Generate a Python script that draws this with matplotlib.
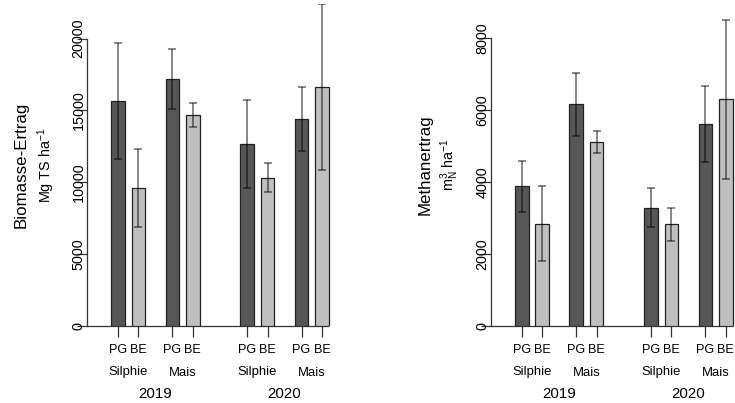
import matplotlib
matplotlib.use("Agg")
import matplotlib.pyplot as plt
from matplotlib.transforms import blended_transform_factory

plt.rcParams['font.family'] = ['Liberation Sans', 'DejaVu Sans']
plt.rcParams['mathtext.fontset'] = 'custom'
plt.rcParams['mathtext.rm'] = 'Liberation Sans'
plt.rcParams['mathtext.it'] = 'Liberation Sans'

# data
treat = ["PG", "BE", "PG", "BE", "PG", "BE", "PG", "BE"]
crops = ["Silphie", "Mais", "Silphie", "Mais"]
years = ["2019", "2020"]
bio_mean = [15650, 9600, 17180, 14680, 12660, 10300, 14400, 16630]
bio_err = [4040, 2710, 2100, 860, 3040, 1010, 2240, 5760]
ch4_mean = [3890, 2845, 6165, 5110, 3290, 2825, 5610, 6300]
ch4_err = [710, 1045, 870, 300, 545, 450, 1050, 2205]
bio_ticks = [0, 5000, 10000, 15000, 20000]
ch4_ticks = [0, 2000, 4000, 6000, 8000]

pos = [0, 1.5, 4, 5.5, 9.5, 11, 13.5, 15]
cols = ["#575757", "#bfbfbf"] * 4

W, H = 735, 403
fig = plt.figure(figsize=(W / 100, H / 100), dpi=100)

unit = 13.6          # px per bar width
ax_w = 244
top_px, bot_px = 4, 326


def fy(py):
    return 1 - py / H


def panel(left_px, means, errs, ticks, ymax, lab, sub):
    ax = fig.add_axes([left_px / W, fy(bot_px), ax_w / W, (bot_px - top_px) / H])
    xl = -31 / unit
    ax.set_xlim(xl, xl + ax_w / unit)
    ax.set_ylim(0, ymax)
    for s in ['top', 'right', 'bottom']:
        ax.spines[s].set_visible(False)
    ax.spines['left'].set_bounds(ticks[0], ticks[-1])
    ax.spines['left'].set_color('#333333')
    ax.spines['left'].set_linewidth(0.9)
    ax.bar(pos, means, width=1, color=cols, edgecolor='#222222', linewidth=0.9, zorder=2)
    ax.errorbar(pos, means, yerr=errs, fmt='none', ecolor=(0, 0, 0, 0.5),
                elinewidth=1.3, capsize=3, capthick=1.3, zorder=3)
    ax.hlines(0, xl, pos[-1] + 0.5, color='#333333', lw=0.9, zorder=1, clip_on=False)
    ax.set_xticks(pos)
    ax.set_xticklabels([])
    ax.tick_params(axis='x', length=8, width=0.9, color='#333333')
    ax.set_yticks(ticks)
    ax.set_yticklabels([])
    ax.tick_params(axis='y', length=7, width=0.9, color='#333333')

    trx = blended_transform_factory(ax.transData, fig.transFigure)
    for p, t in zip(pos, treat):
        ax.text(p, fy(353), t, transform=trx, ha='center', va='baseline', fontsize=9.1)
    for i, c in enumerate(crops):
        ax.text((pos[2 * i] + pos[2 * i + 1]) / 2, fy(375.5), c, transform=trx,
                ha='center', va='baseline', fontsize=9.4)
    for i, y in enumerate(years):
        xc = (pos[4 * i] + pos[4 * i + 3]) / 2
        ax.text(xc, fy(398.3), y, transform=trx, ha='center', va='baseline', fontsize=10.8)

    try_ = blended_transform_factory(fig.transFigure, ax.transData)
    for t in ticks:
        ax.text((left_px - 8.5) / W, t, str(t), transform=try_, rotation=90,
                ha='center', va='center', fontsize=10.4)
    yc = fy((top_px + bot_px) / 2)
    fig.text((left_px - 65.5) / W, yc, lab, rotation=90, ha='center', va='center', fontsize=12.2)
    fig.text((left_px - 41) / W, yc, sub, rotation=90, ha='center', va='center', fontsize=10.4)
    return ax


panel(87, bio_mean, bio_err, bio_ticks, 22400, "Biomasse-Ertrag",
      r"Mg TS ha$^{\mathrm{-1}}$")
panel(490.7, ch4_mean, ch4_err, ch4_ticks, 8954, "Methanertrag",
      r"m$_{\mathrm{N}}^{\mathrm{3}}$ ha$^{\mathrm{-1}}$")

fig.savefig("out.png", dpi=100)
